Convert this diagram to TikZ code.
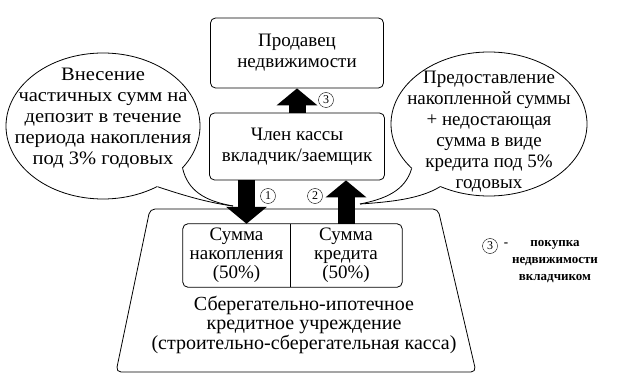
\documentclass[tikz,border=0pt]{standalone}
\usepackage{fontspec}
\setmainfont{Liberation Serif}
\usetikzlibrary{shapes.geometric,arrows.meta}

\begin{document}
\begin{tikzpicture}[x=1pt, y=1pt, every node/.style={align=center, font=\rmfamily\fontsize{19}{21}\selectfont},
	box/.style={draw, thick, rounded corners=5pt, fill=white},
	bubble/.style={ellipse, draw, thick, fill=white, inner sep=0pt},
	num/.style={circle, draw, inner sep=0.8pt, minimum size=15pt, font=\rmfamily\fontsize{12}{12}\selectfont},
	blockarrow/.style={line width=17pt, -{Triangle[length=17pt, width=40pt]}},
	tail/.style={thick}]
	\useasboundingbox (0,0) rectangle (617,391);
	
	\draw[thick, rounded corners=5pt] (116,19) -- (476,19) -- (438,182) -- (150,182) -- cycle;
	\node (kassa) at (304,66) [font=\rmfamily\fontsize{20}{18.5}\selectfont] {Сберегательно-ипотечное\\кредитное учреждение\\(строительно-сберегательная касса)};
	
	\node (accum) at (236.5,135.5) [minimum width=107, minimum height=63, inner sep=0pt, font=\rmfamily\fontsize{19}{19}\selectfont] {Сумма\\накопления\\(50\%)};
	\node (credit) at (346,135.5) [minimum width=112, minimum height=63, inner sep=0pt, font=\rmfamily\fontsize{19}{19}\selectfont] {Сумма\\кредита\\(50\%)};
	\draw[thick, rounded corners=5pt] (accum.north west) rectangle (credit.south east);
	\draw[thick] (accum.north east) -- (accum.south east);
	
	\node (leftbub) at (103,265) [bubble, minimum width=194, minimum height=146] {};
	\node (rightbub) at (489,267) [bubble, minimum width=196, minimum height=144] {};
	\coordinate (ltip) at (233,185);
	\coordinate (rtip) at (360,187);
	\fill[white] (leftbub.center) -- (leftbub.-28) .. controls (188,200) and (205,190) .. (ltip)
		.. controls (210,188) and (185,195) .. (leftbub.-48) -- cycle;
	\draw[tail] (leftbub.-28) .. controls (188,200) and (205,190) .. (ltip);
	\draw[tail] (leftbub.-48) .. controls (185,195) and (210,188) .. (ltip);
	\fill[white] (rightbub.center) -- (rightbub.-150) .. controls (405,200) and (385,192) .. (rtip)
		.. controls (390,189) and (420,192) .. (rightbub.-128) -- cycle;
	\draw[tail] (rightbub.-150) .. controls (405,200) and (385,192) .. (rtip);
	\draw[tail] (rightbub.-128) .. controls (420,192) and (390,189) .. (rtip);
	\node (lefttext) at (103,273) [font=\rmfamily\fontsize{19}{21}\selectfont\addfontfeature{FakeStretch=1.08}] {Внесение\\частичных сумм на\\депозит в течение\\периода накопления\\под 3\% годовых};
	\node (righttext) at (489,259) {Предоставление\\накопленной суммы\\+ недостающая\\сумма в виде\\кредита под 5\%\\годовых};
	
	\node (seller) at (297,338) [box, minimum width=173, minimum height=70] {Продавец\\недвижимости};
	\node (member) at (297,244.5) [box, minimum width=175, minimum height=67] {Член кассы\\вкладчик/заемщик};
	
	\coordinate (a1) at ([xshift=10pt]accum.north);
	\draw[blockarrow] (member.south -| a1) -- (a1);
	\draw[blockarrow] (credit.north) -- (credit.north |- member.south);
	\draw[blockarrow] (member.north) -- (seller.south);
	
	\node (n1) at (268,195) [num] {1};
	\node (n2) at (315,195) [num] {2};
	\node (n3) at (326,291) [num] {3};
	
	\node (legnum) at (490,145) [num] {3};
	\node (legdash) at (506,146) [font=\rmfamily\fontsize{13}{13}\selectfont\bfseries] {-};
	\node (legend) at (555,129) [font=\rmfamily\fontsize{13}{17}\selectfont\bfseries] {покупка\\недвижимости\\вкладчиком};
\end{tikzpicture}
\end{document}
